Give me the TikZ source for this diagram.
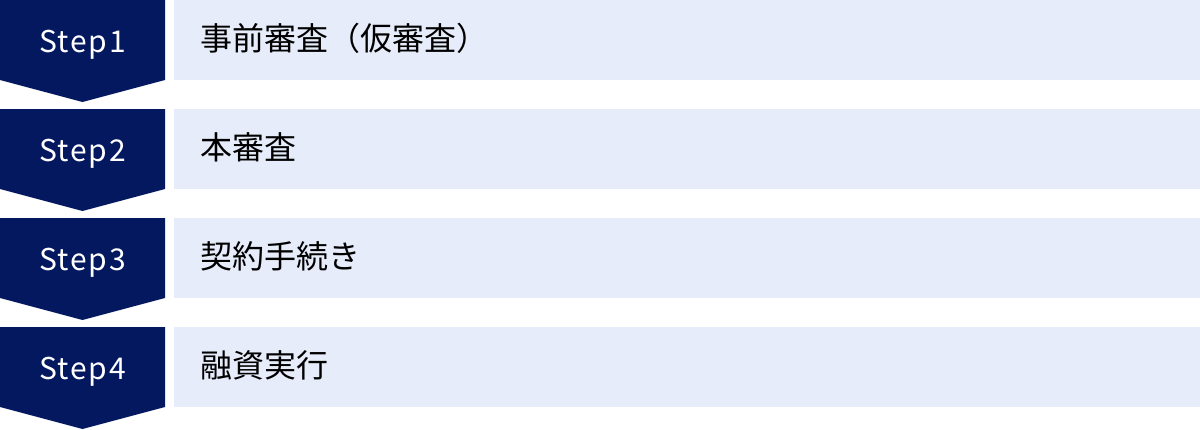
\documentclass[tikz,border=0pt]{standalone}
\usepackage{fontspec}
\setmainfont{Noto Sans}
\newfontfamily\jpfont{Noto Sans CJK JP}
\newfontfamily\stepfont[LetterSpace=6]{Noto Sans CJK JP}
\definecolor{stepnavy}{RGB}{4,24,96}
\definecolor{barblue}{RGB}{230,236,249}
\tikzset{
  steptext/.style={text=white,anchor=base,font=\stepfont\fontsize{22.5}{28}\selectfont},
  tasktext/.style={anchor=base west,font=\jpfont\fontsize{24}{28}\selectfont},
}
\begin{document}
\begin{tikzpicture}[x=0.75pt,y=-0.75pt]
\useasboundingbox (0,0) rectangle (1200,429);
%% step arrows and task bars
\foreach \i/\task in {1/事前審査（仮審査）,2/本審査,3/契約手続き,4/融資実行}{
  \pgfmathsetmacro\ytop{(\i-1)*109}
  \fill[stepnavy] (0,\ytop) -- (165,\ytop) -- (165,\ytop+80) -- (82.5,\ytop+102) -- (0,\ytop+80) -- cycle;
  \fill[barblue] (174,\ytop) rectangle (1200,\ytop+79.5);
  \node[steptext] (step\i) at (82.5,\ytop+52.5) {Step\i};
  \node[tasktext,inner sep=0pt] (task\i) at (200,\ytop+50) {\task};
}
\end{tikzpicture}
\end{document}
